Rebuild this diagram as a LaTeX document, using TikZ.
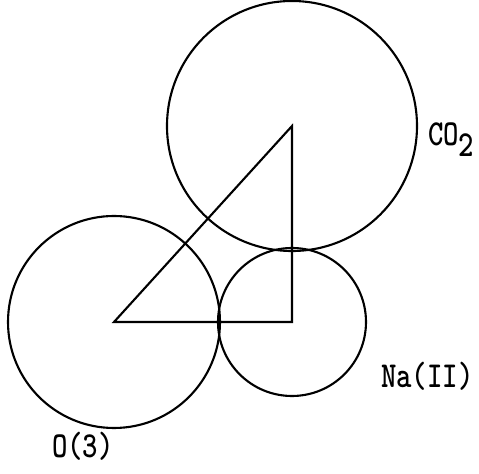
\documentclass[tikz,border=0pt]{standalone}
\usepackage{tikz}
\usetikzlibrary{positioning,calc}
\tikzset{
  xtatom/.style={
    circle, draw=black, fill=none, line width=1.8pt,
    inner sep=0pt, minimum size=#1*0.6mm
  },
  xtbond/.style={line width=1.8pt,line join=miter},
  xtlabel/.style={font=\fontsize{25}{29}\selectfont\ttfamily\bfseries,inner sep=0pt,
    yscale=1.25,transform shape}
}
\begin{document}
\begin{tikzpicture}[x=0.3mm,y=-0.3mm]
  \useasboundingbox (0,0) rectangle (479,474);
  \node[xtatom=125] (co2) at (292,126) {};
  \node[xtatom=106] (o3) at (114,322) {};
  \node[xtatom=74] (na) at (292,322) {};
  \draw[xtbond] (o3.center) -- (na.center) -- (co2.center) -- cycle;
  \node[xtlabel,anchor=base west] (lco2) at (428,146) {CO$_{\mbox{\fontsize{25}{29}\selectfont\ttfamily\bfseries 2}}$};
  \node[xtlabel,anchor=base west] (lna) at (381,388) {Na(II)};
  \node[xtlabel,anchor=base west] (lo3) at (52,458) {O(3)};
\end{tikzpicture}
\end{document}
